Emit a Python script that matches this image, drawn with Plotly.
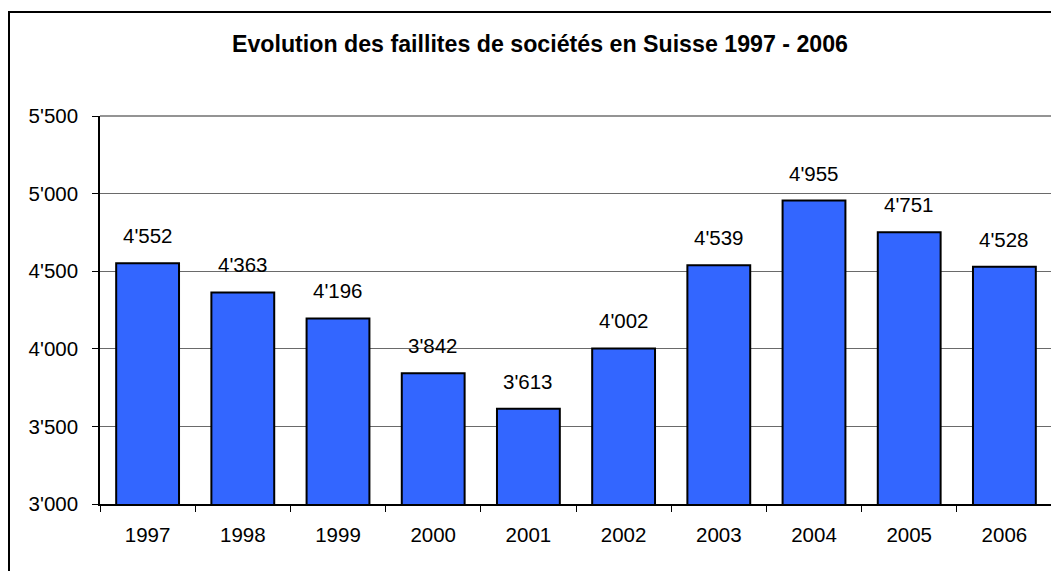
import plotly.graph_objects as go

years = ["1997", "1998", "1999", "2000", "2001", "2002", "2003", "2004", "2005", "2006"]
faillites = [4552, 4363, 4196, 3842, 3613, 4002, 4539, 4955, 4751, 4528]
y_ticks = [3000, 3500, 4000, 4500, 5000, 5500]
y_tick_labels = ["3'000", "3'500", "4'000", "4'500", "5'000", "5'500"]
title_text = "Evolution des faillites de sociétés en Suisse 1997 - 2006"


def swiss(v):
    return f"{v:,}".replace(",", "'")


# page body has an 8px margin, so the figure is a bit smaller and shifted
W, H = 1051, 563
L, R, T, B = 92, 7, 108, 67
pw, ph = W - L - R, H - T - B

fig = go.Figure()
fig.add_trace(go.Bar(
    x=years, y=faillites,
    marker=dict(color="#3366FF", line=dict(color="#000000", width=2)),
    hoverinfo="x+y",
))

for i, v in enumerate(faillites):
    fig.add_annotation(x=i, y=v, text=swiss(v), showarrow=False,
                       yanchor="bottom", yshift=14,
                       font=dict(family="Liberation Sans, Arial", size=20.5, color="#000000"))

# outer chart frame (cut by right and bottom edges)
fig.add_shape(type="rect", xref="paper", yref="paper",
              x0=(1 - L) / pw, x1=(W + 10 - L) / pw,
              y0=-(H + 10 - (T + ph)) / ph, y1=(T + ph - 4) / ph,
              line=dict(color="#000000", width=2), fillcolor="rgba(0,0,0,0)", layer="below")
# plot area right and top border
fig.add_shape(type="line", xref="paper", yref="paper", x0=1, x1=1, y0=0, y1=1,
              line=dict(color="#8c8c8c", width=2))
fig.add_shape(type="line", xref="paper", yref="paper", x0=0, x1=1, y0=1, y1=1,
              line=dict(color="#707070", width=1.3))

fig.update_layout(
    width=W, height=H,
    margin=dict(l=L, r=R, t=T, b=B),
    paper_bgcolor="white", plot_bgcolor="white",
    bargap=0.34,
    showlegend=False,
    font=dict(family="Liberation Sans, Arial", size=20.5, color="#000000"),
    title=dict(text="<b>" + title_text + "</b>", xref="container", x=532 / W, xanchor="center",
               yref="container", y=1 - 36 / H, yanchor="middle",
               font=dict(family="Liberation Sans, Arial", size=23.2, color="#000000")),
    xaxis=dict(type="category", range=[-0.5, len(years) - 0.5], autorange=False,
               showline=True, linecolor="#000000", linewidth=1.5,
               ticks="outside", tickson="boundaries", ticklen=6, tickcolor="#000000",
               tickwidth=1.2, showgrid=False, ticklabelstandoff=12, tickangle=0,
               tickfont=dict(size=20.5)),
    yaxis=dict(range=[3000, 5500], autorange=False, tickvals=y_ticks, ticktext=y_tick_labels,
               showline=True, linecolor="#000000", linewidth=1.5,
               ticks="outside", ticklen=6, tickcolor="#000000", tickwidth=1.2,
               showgrid=True, gridcolor="#6a6a6a", gridwidth=1.1,
               ticklabelstandoff=10, zeroline=False, tickfont=dict(size=20.5)),
)

fig.write_html("out.html")
